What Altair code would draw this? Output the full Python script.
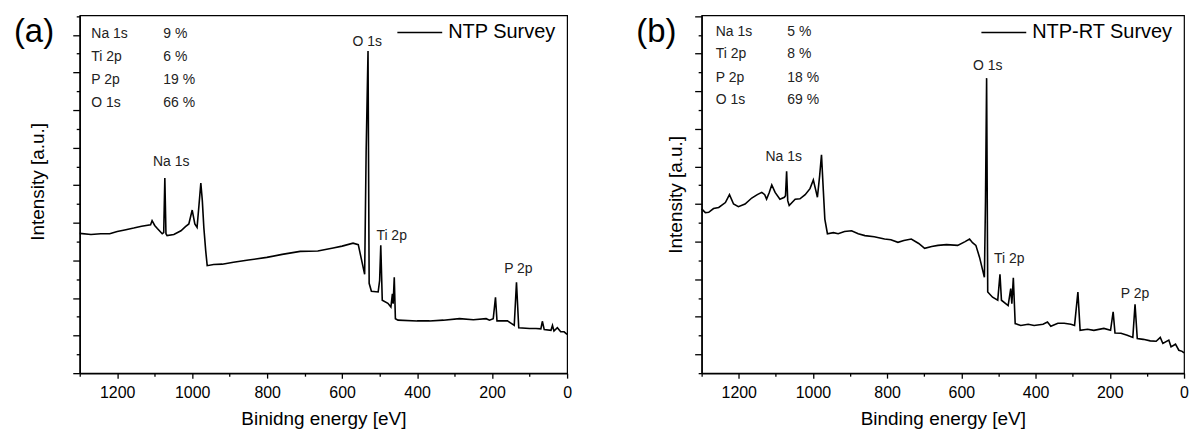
import altair as alt
import pandas as pd

FONT = "Liberation Sans"

# ---------------- Panel (a): NTP survey ----------------
energy_a = [1300, 1270, 1244, 1220, 1200, 1180, 1156, 1135, 1111, 1107, 1100, 1093, 1080, 1076,
            1073, 1070, 1067, 1049, 1030, 1018, 1009, 1000, 993, 987, 982, 977, 973, 969, 964,
            960, 943, 920, 890, 850, 801, 760, 712, 665, 624, 600, 571, 557, 548, 540, 536,
            531, 528, 522, 504, 500, 497, 493, 478, 470, 466, 464, 461, 458, 451, 400, 367,
            330, 287, 250, 216, 207, 197, 191, 187, 159, 150, 141, 135, 129, 100, 83, 70, 66,
            61, 43, 39, 35, 26, 17, 8, 0]
intensity_a = [3.72, 3.69, 3.71, 3.71, 3.77, 3.81, 3.86, 3.91, 3.95, 4.06, 3.93, 3.85, 3.71, 3.74,
               5.19, 3.71, 3.66, 3.69, 3.79, 3.90, 3.97, 4.34, 3.97, 3.88, 4.46, 5.06, 4.59, 3.88, 3.26,
               2.86, 2.89, 2.90, 2.95, 3.01, 3.08, 3.16, 3.24, 3.25, 3.33, 3.38, 3.46, 3.42, 3.00, 2.63, 5.92,
               8.57, 2.39, 2.18, 2.16, 2.47, 3.40, 1.94, 1.86, 1.76, 2.11, 1.85, 2.55, 1.45, 1.41, 1.39, 1.39,
               1.41, 1.45, 1.42, 1.45, 1.41, 1.45, 2.02, 1.39, 1.39, 1.33, 1.27, 2.42, 1.21, 1.19, 1.19, 1.18, 1.38,
               1.16, 1.14, 1.27, 1.12, 1.21, 1.10, 1.10, 1.03]
series_a = "NTP Survey"
peak_names_a = ["Na 1s", "O 1s", "Ti 2p", "P 2p"]
peak_x_a = [1056, 533, 468, 130]
peak_y_a = [5.63, 8.81, 3.66, 2.78]
comp_elements_a = ["Na 1s", "Ti 2p", "P 2p", "O 1s"]
comp_percent_a = ["9 %", "6 %", "19 %", "66 %"]
comp_rows_a = [9.03, 8.42, 7.80, 7.20]
comp_label_x_a = 1269
comp_value_x_a = 1077
letter_a = "(a)"
xtitle_a = "Binidng energy [eV]"

# ---------------- Panel (b): NTP-RT survey ----------------
energy_b = [1300, 1290, 1281, 1268, 1254, 1236, 1225, 1214, 1201, 1183, 1165, 1150, 1138, 1130, 1125,
            1118, 1111, 1102, 1089, 1077, 1074, 1071, 1068, 1064, 1048, 1035, 1021, 1008, 999, 992,
            988, 982, 977, 972, 968, 961, 945, 932, 915, 896, 878, 860, 835, 807, 790, 771, 755, 735,
            715, 699, 680, 663, 640, 610, 590, 578, 570, 561, 551, 538, 535, 532, 529, 516, 502, 496,
            492, 474, 467, 464, 460, 455, 440, 420, 404, 380, 368, 359, 340, 323, 305, 295, 286, 280,
            260, 243, 216, 198, 191, 186, 170, 153, 138, 132, 126, 110, 91, 75, 64, 57, 41, 35, 23,
            14, 5, 0]
intensity_b = [4.37, 4.27, 4.28, 4.38, 4.41, 4.54, 4.75, 4.50, 4.43, 4.50, 4.66, 4.75, 4.81, 4.75, 4.63,
               4.80, 5.01, 4.81, 4.63, 4.68, 4.72, 5.37, 4.59, 4.46, 4.63, 4.64, 4.75, 4.91, 5.14, 4.85,
               4.68, 5.25, 5.81, 4.85, 4.10, 3.71, 3.74, 3.71, 3.77, 3.79, 3.71, 3.66, 3.63, 3.57, 3.55,
               3.48, 3.53, 3.57, 3.45, 3.32, 3.37, 3.40, 3.42, 3.40, 3.50, 3.57, 3.47, 3.40, 3.08, 2.55,
               4.59, 7.85, 2.16, 2.02, 1.94, 2.63, 1.94, 1.80, 2.25, 1.85, 2.54, 1.32, 1.27, 1.30, 1.27,
               1.30, 1.36, 1.25, 1.33, 1.33, 1.30, 1.27, 2.16, 1.14, 1.17, 1.14, 1.19, 1.14, 1.63, 1.07,
               1.06, 1.01, 0.95, 1.83, 0.92, 0.90, 0.86, 0.85, 0.95, 0.79, 0.88, 0.70, 0.77, 0.61, 0.58, 0.54]
series_b = "NTP-RT Survey"
peak_names_b = ["Na 1s", "O 1s", "Ti 2p", "P 2p"]
peak_x_b = [1079, 529, 471, 132]
peak_y_b = [5.76, 8.17, 3.04, 2.11]
comp_elements_b = ["Na 1s", "Ti 2p", "P 2p", "O 1s"]
comp_percent_b = ["5 %", "8 %", "18 %", "69 %"]
comp_rows_b = [9.08, 8.48, 7.86, 7.26]
comp_label_x_b = 1262
comp_value_x_b = 1069
letter_b = "(b)"
xtitle_b = "Binding energy [eV]"

letter_x = 1422
letter_y = 9.07
y_ticks = [i * 0.5 for i in range(20)]
x_ticks = list(range(0, 1301, 100))


def panel(energy, intensity, series, peak_names, peak_x, peak_y, comp_el, comp_pct, comp_rows,
          comp_lx, comp_vx, letter, xtitle, width, major_test, title_y, title_x, legend_x):
    xscale = alt.Scale(domain=[0, 1300], reverse=True, nice=False, zero=False)
    yscale = alt.Scale(domain=[0, 9.52], nice=False, zero=False)
    x_enc = alt.X("E:Q", scale=xscale, title=xtitle,
                  axis=alt.Axis(values=x_ticks, format="d",
                                labelExpr="datum.value % 200 === 0 ? datum.label : ''",
                                tickSize={"condition": {"test": "datum.value % 200 === 0", "value": 5}, "value": 3},
                                grid=False, labelFlush=False, labelOverlap=False,
                                labelFont=FONT, labelFontSize=16, labelColor="black", labelPadding=6,
                                titleFont=FONT, titleFontSize=19, titleFontWeight="normal",
                                titleColor="black", titlePadding=10,
                                domainColor="black", domainWidth=1.5, tickColor="black", tickWidth=1.3))
    y_enc = alt.Y("I:Q", scale=yscale, title="Intensity [a.u.]",
                  axis=alt.Axis(values=y_ticks, labels=False, grid=False,
                                tickSize={"condition": {"test": major_test, "value": 7}, "value": 3.5},
                                titleFont=FONT, titleFontSize=19, titleFontWeight="normal", titleColor="black",
                                titleAngle=270, titleAlign="center", titleBaseline="middle",
                                titleX=title_x, titleY=title_y,
                                domainColor="black", domainWidth=1.5, tickColor="black", tickWidth=1.3))
    spec = pd.DataFrame({"E": energy, "I": intensity, "series": [series] * len(energy)})
    line = alt.Chart(spec).mark_line(strokeWidth=1.6).encode(
        color=alt.Color("series:N", scale=alt.Scale(range=["black"]),
                        legend=alt.Legend(orient="none", legendX=legend_x, legendY=-6.3, title=None,
                                          symbolType="stroke", symbolSize=2025, symbolStrokeWidth=1.5,
                                          labelFont=FONT, labelFontSize=20, labelColor="black",
                                          labelOffset=5, padding=0)),
    )
    peaks = alt.Chart(pd.DataFrame({"E": peak_x, "I": peak_y, "t": peak_names})).mark_text(
        font=FONT, fontSize=14, color="#222222", align="center", baseline="middle").encode(text="t:N")
    comp_l = alt.Chart(pd.DataFrame({"E": [comp_lx] * 4, "I": comp_rows, "t": comp_el})).mark_text(
        font=FONT, fontSize=14, color="#222222", align="left", baseline="middle").encode(text="t:N")
    comp_v = alt.Chart(pd.DataFrame({"E": [comp_vx] * 4, "I": comp_rows, "t": comp_pct})).mark_text(
        font=FONT, fontSize=14, color="#222222", align="left", baseline="middle").encode(text="t:N")
    let = alt.Chart(pd.DataFrame({"E": [letter_x], "I": [letter_y], "t": [letter]})).mark_text(
        font=FONT, fontSize=33, color="black", align="center", baseline="middle").encode(text="t:N")
    return alt.layer(line, peaks, comp_l, comp_v, let).encode(x=x_enc, y=y_enc).properties(
        width=width, height=359)


pa = panel(energy_a, intensity_a, series_a, peak_names_a, peak_x_a, peak_y_a, comp_elements_a,
           comp_percent_a, comp_rows_a, comp_label_x_a, comp_value_x_a, letter_a, xtitle_a, 489,
           "datum.value % 1 === 0", 166.5, -42, 317.7)
pb = panel(energy_b, intensity_b, series_b, peak_names_b, peak_x_b, peak_y_b, comp_elements_b,
           comp_percent_b, comp_rows_b, comp_label_x_b, comp_value_x_b, letter_b, xtitle_b, 484,
           "datum.value % 1 !== 0", 179.5, -26, 279.7)

chart = alt.hconcat(pa, pb, spacing=135, bounds="flush").resolve_scale(
    color="independent", x="independent", y="independent"
).properties(
    padding={"left": 13, "top": 7.7, "right": 0, "bottom": 0}, background="white"
).configure_view(stroke="black", strokeWidth=1.2)

chart.save("out.html", embed_options={"renderer": "svg", "actions": False})
